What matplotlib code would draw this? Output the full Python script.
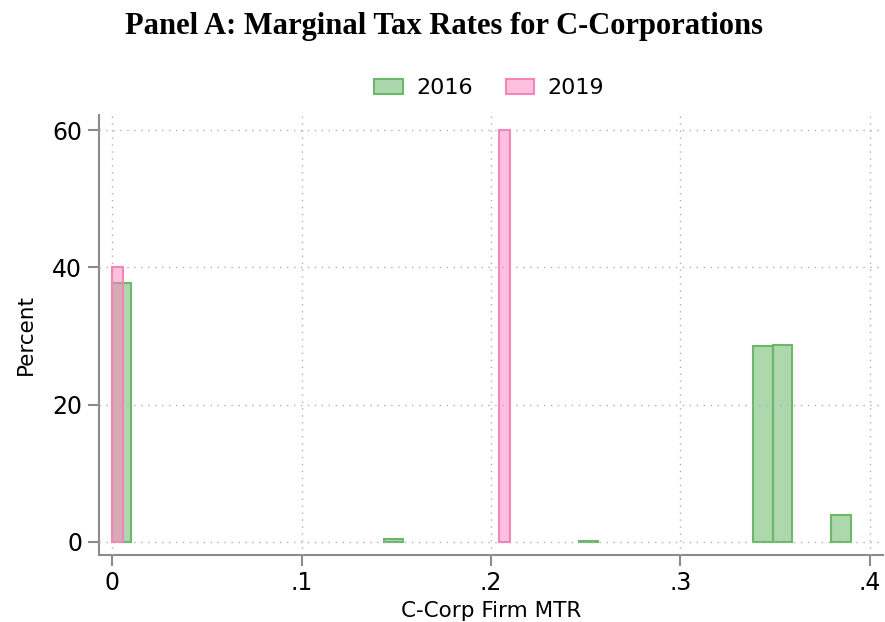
import numpy as np
import matplotlib
matplotlib.use("Agg")
import matplotlib.pyplot as plt
from matplotlib.patches import Patch

# histogram bins (left edge, width, percent)
left_2016 = [0.0, 0.1436, 0.2464, 0.3384, 0.3486, 0.3797]
width_2016 = [0.0102, 0.0102, 0.0102, 0.0102, 0.0102, 0.0102]
pct_2016 = [37.7, 0.4, 0.2, 28.6, 28.7, 4.0]

left_2019 = [0.0, 0.2044]
width_2019 = [0.0055, 0.0055]
pct_2019 = [40.0, 60.0]

xticks = [0, 0.1, 0.2, 0.3, 0.4]
xtick_labels = ["0", ".1", ".2", ".3", ".4"]
yticks = [0, 20, 40, 60]

green_face = (0.36, 0.70, 0.36, 0.5)
green_edge = (0.42, 0.72, 0.42, 1.0)
pink_face = (1.0, 0.50, 0.75, 0.5)
pink_edge = (0.94, 0.53, 0.72, 1.0)

fig = plt.figure(figsize=(8.85, 6.22), dpi=100)
ax = fig.add_axes([0.1119, 0.1082, 0.8858, 0.7069])

ax.bar(left_2016, pct_2016, width=width_2016, align="edge",
       facecolor=green_face, edgecolor=green_edge, linewidth=1.5, zorder=2)
ax.bar(left_2019, pct_2019, width=width_2019, align="edge",
       facecolor=pink_face, edgecolor=pink_edge, linewidth=1.5, zorder=3)

ax.set_xlim(-0.0069, 0.4069)
ax.set_ylim(-1.85, 62.2)
ax.set_xticks(xticks)
ax.set_xticklabels(xtick_labels)
ax.set_yticks(yticks)

ax.grid(True, linestyle=(0, (1, 4)), color="#b0b0b0", linewidth=1.0, zorder=4)
ax.set_axisbelow(False)

for s in ["top", "right"]:
    ax.spines[s].set_visible(False)
for s in ["left", "bottom"]:
    ax.spines[s].set_color("#8c8c8c")
    ax.spines[s].set_linewidth(1.5)
ax.tick_params(axis="both", direction="out", length=8, width=1.5,
               color="#8c8c8c", labelsize=17, pad=4)

ax.set_xlabel("C-Corp Firm MTR", fontsize=15.5, labelpad=4)
ax.set_ylabel("Percent", fontsize=15.5, labelpad=12)

handles = [Patch(facecolor=green_face, edgecolor=green_edge, linewidth=1.5, label="2016"),
           Patch(facecolor=pink_face, edgecolor=pink_edge, linewidth=1.5, label="2019")]
fig.legend(handles=handles, loc="center", bbox_to_anchor=(0.553, 0.858), ncol=2,
           frameon=False, fontsize=16, handlelength=1.3, handleheight=0.6,
           columnspacing=1.45, handletextpad=0.6)

fig.text(0.502, 0.957, "Panel A: Marginal Tax Rates for C-Corporations",
         ha="center", va="center", fontsize=22, fontweight="bold",
         family="Liberation Serif")

fig.savefig("out.png", dpi=100)
